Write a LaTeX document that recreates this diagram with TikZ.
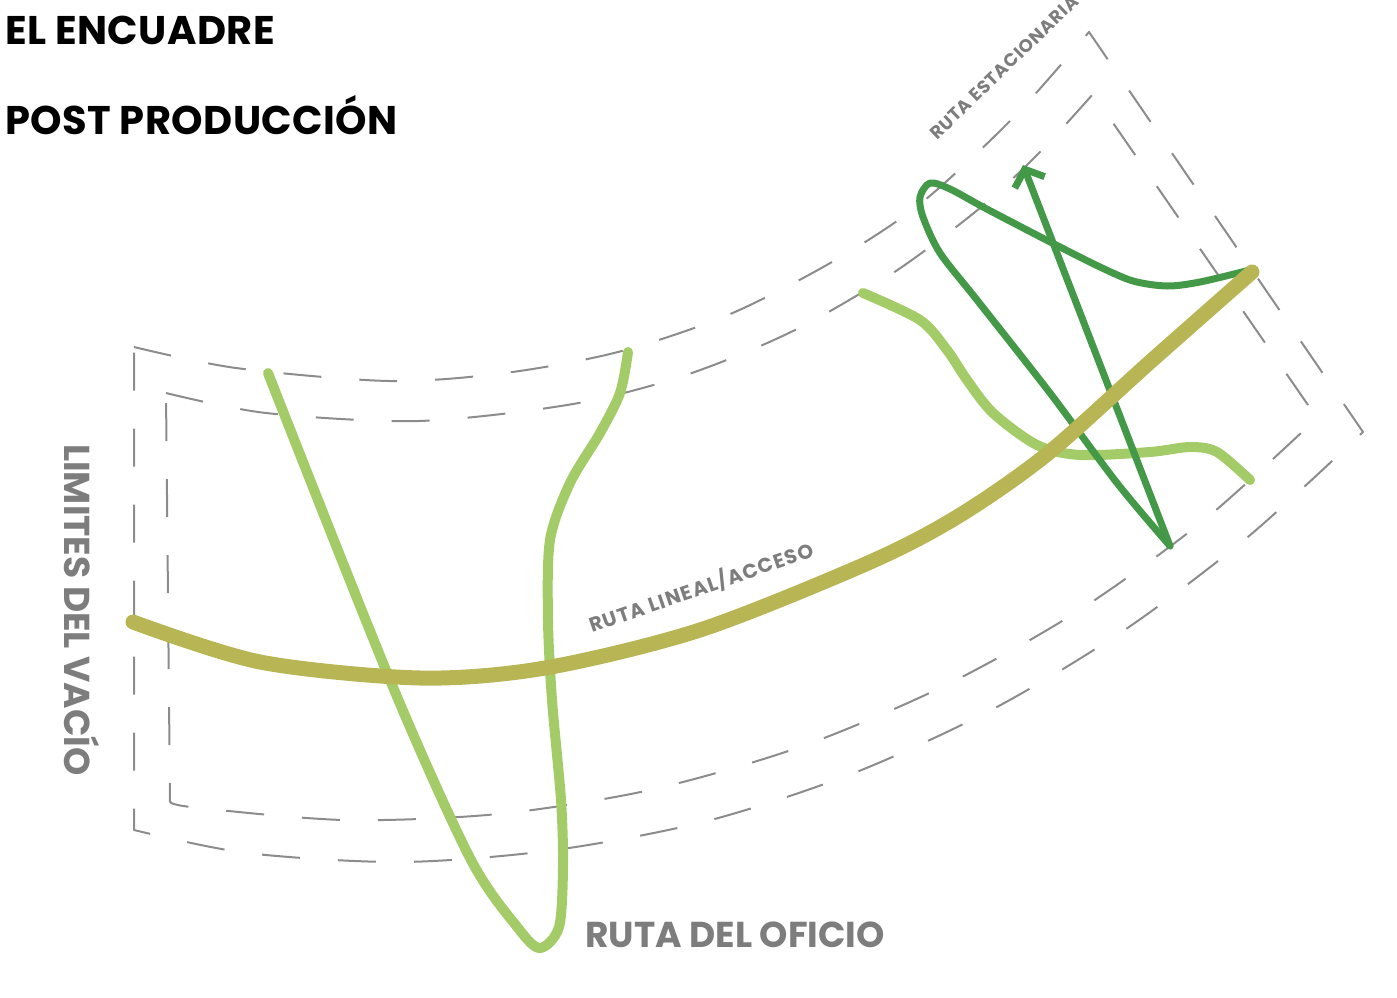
\documentclass[tikz,border=0pt]{standalone}
\usepackage{fontspec}
\setmainfont{Poppins}
\usetikzlibrary{arrows.meta}
\definecolor{oliva}{RGB}{184,182,84}
\definecolor{verdeclaro}{RGB}{163,204,104}
\definecolor{verdeoscuro}{RGB}{68,153,72}
\definecolor{grislinea}{RGB}{140,140,140}
\definecolor{gristexto}{RGB}{125,125,125}
\tikzstyle{limite}=[grislinea, line width=2pt, line cap=butt, dash pattern=on 38pt off 38pt]
\tikzstyle{oficio}=[verdeclaro, line width=10pt]
\tikzstyle{estacionaria}=[verdeoscuro, line width=7pt]
\tikzstyle{lineal}=[oliva, line width=15pt]
\tikzstyle{titulo}=[inner sep=0pt, black, font=\fontsize{40}{48}\selectfont\bfseries\addfontfeature{LetterSpace=1}]
\tikzstyle{etiqueta}=[inner sep=0pt, gristexto, font=\fontsize{36}{43}\selectfont\bfseries]
\tikzstyle{rotulo}=[inner sep=0pt, gristexto, font=\fontsize{20}{24}\selectfont\bfseries\addfontfeature{LetterSpace=6}]

\begin{document}
\begin{tikzpicture}[x=1pt, y=-1pt, line cap=round, line join=round]
\useasboundingbox (0,0) rectangle (1397,998);
% Titles
    \node[titulo, anchor=base west] (encuadre) at (5,45) {EL ENCUADRE};
    \node[titulo, anchor=base west] (post) at (5,134) {POST PRODUCCIÓN};
% Outer limit of the void
    \draw[limite] plot[smooth] coordinates {(134,347) (236,368) (389,381) (505,373) (618,352) (728,315) (832,262) (920,204) (1013,118) (1089,32)}
        -- (1363,432)
        -- plot[smooth] coordinates {(1363,432) (1249,536) (1126,629) (995,708) (854,773) (707,821) (555,850) (402,862) (247,853) (134,830)}
        -- cycle;
% Inner limit of the void
    \draw[limite] plot[smooth] coordinates {(166,393) (266,413) (419,421) (573,404) (686,375) (793,331) (893,273) (980,208) (1040,152) (1093,94)}
        -- (1317,418)
        -- plot[smooth] coordinates {(1317,418) (1203,521) (1075,613) (942,687) (800,747) (650,790) (498,814) (344,820) (191,807) (170,801)}
        -- cycle;
% Craft route
    \draw[oficio] plot[smooth] coordinates {(268,373) (390,680) (470,858) (518,928) (540,948) (559,927) (563,867) (561,800) (552,700) (548,620) (550,540) (570,483) (600,433) (620,393) (628,352)};
    \draw[oficio] plot[smooth] coordinates {(863,293) (920,320) (947,350) (967,380) (993,413) (1037,445) (1080,455) (1150,452) (1190,447) (1217,452) (1250,480)};
% Stationary route
    \coordinate (vertice) at (1170,546);
    \coordinate (punta) at (1023,165);
    \draw[estacionaria] plot[smooth] coordinates {(1250,270) (1200,282) (1167,286) (1133,281) (1100,267) (1060,247) (1027,230) (983,207) (950,189) (930,183) (920,197) (923,217) (940,253) (977,300) (1050,393) (1117,483) (1170,546)};
    \draw[estacionaria, -{Straight Barb[length=14pt, width=32pt]}] (vertice) -- (punta);
% Linear route
    \draw[lineal] plot[smooth] coordinates {(133,622) (260,662) (420,678) (545,668) (700,630) (868,563) (957,517) (1046,455) (1150,362) (1252,272)};
% Labels
    \node[etiqueta, rotate=-90, anchor=base] (vacio) at (64,610) {LIMITES DEL VACÍO};
    \node[etiqueta, anchor=base west] (ofi) at (585,947) {RUTA DEL OFICIO};
    \node[rotulo, rotate=19, anchor=base west] (acceso) at (592,633) {RUTA LINEAL/ACCESO};
    \node[rotulo, font=\fontsize{18}{22}\selectfont\bfseries\addfontfeature{LetterSpace=4}, rotate=44, anchor=base west] (estacion) at (937,141) {RUTA ESTACIONARIA};
\end{tikzpicture}
\end{document}
